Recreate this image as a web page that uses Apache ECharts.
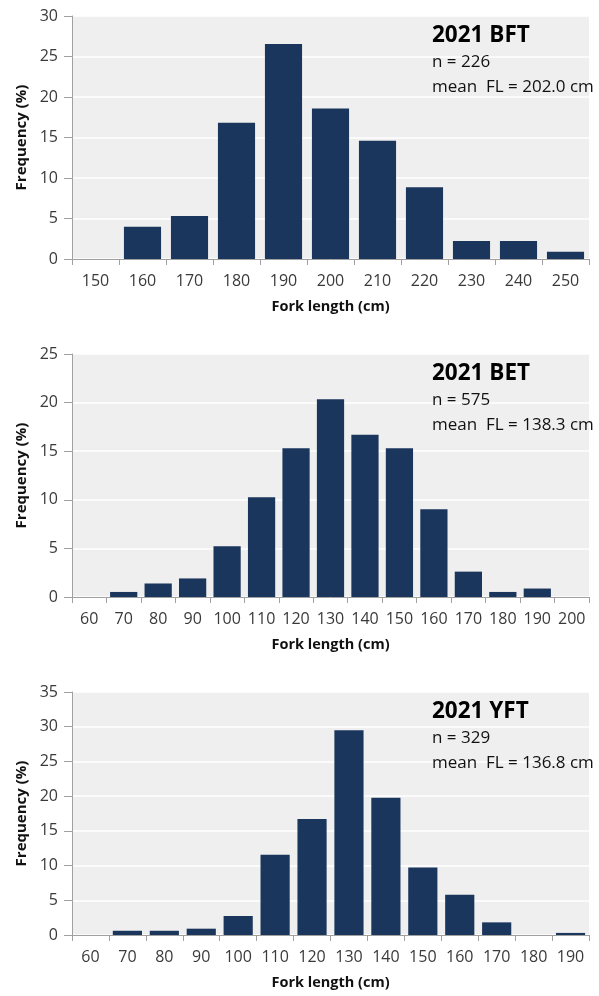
<!DOCTYPE html>
<html><head><meta charset="utf-8">
<script src="https://cdn.jsdelivr.net/npm/echarts@6/dist/echarts.min.js"></script>
<style>html,body{margin:0;padding:0;background:#fff}#c{width:599px;height:996px}</style>
</head><body><div id="c"></div>
<script>
// ---- data ----
const bftCategories = ['150','160','170','180','190','200','210','220','230','240','250'];
const bftValues = [0, 3.98, 5.31, 16.81, 26.55, 18.58, 14.60, 8.85, 2.21, 2.21, 0.88];
const betCategories = ['60','70','80','90','100','110','120','130','140','150','160','170','180','190','200'];
const betValues = [0, 0.52, 1.39, 1.91, 5.22, 10.26, 15.30, 20.35, 16.70, 15.30, 9.04, 2.61, 0.52, 0.87, 0];
const yftCategories = ['60','70','80','90','100','110','120','130','140','150','160','170','180','190'];
const yftValues = [0, 0.61, 0.61, 0.91, 2.74, 11.55, 16.72, 29.48, 19.76, 9.73, 5.78, 1.82, 0, 0.30];
const yMax = [30, 25, 35];
const panelTitles = ['2021 BFT', '2021 BET', '2021 YFT'];
const panelN = ['n = 226', 'n = 575', 'n = 329'];
const panelMean = ['mean  FL = 202.0 cm', 'mean  FL = 138.3 cm', 'mean  FL = 136.8 cm'];
const xAxisTitle = 'Fork length (cm)';
const yAxisTitle = 'Frequency (%)';

const FONT = 'Open Sans';
const barColor = '#1b365d';
const axisColor = '#a0a0a0';
const tops = [16, 354, 692];
const H = 243;
const cats = [bftCategories, betCategories, yftCategories];
const vals = [bftValues, betValues, yftValues];

const grids = [], xAxes = [], yAxes = [], series = [], graphics = [];
for (let i = 0; i < 3; i++) {
  grids.push({left: 72, right: 10, top: tops[i], height: H, show: true, backgroundColor: '#efefef', borderWidth: 0});
  xAxes.push({
    type: 'category', gridIndex: i, data: cats[i], boundaryGap: true,
    axisLine: {lineStyle: {color: axisColor, width: 1}},
    axisTick: {show: true, interval: 0, length: 6, lineStyle: {color: axisColor}},
    axisLabel: {interval: 0, margin: 14, fontFamily: FONT, fontSize: 16, color: '#3a3a3a'},
    name: xAxisTitle, nameLocation: 'middle', nameGap: 40,
    nameTextStyle: {fontFamily: FONT, fontSize: 14.5, fontWeight: 'bold', color: '#111'}
  });
  yAxes.push({
    type: 'value', gridIndex: i, min: 0, max: yMax[i], interval: 5,
    axisLine: {show: true, lineStyle: {color: axisColor, width: 1}},
    axisTick: {show: true, length: 8, lineStyle: {color: axisColor}},
    splitLine: {show: true, lineStyle: {color: '#ffffff', width: 1.5}},
    axisLabel: {margin: 14, fontFamily: FONT, fontSize: 16, color: '#3a3a3a'},
    name: yAxisTitle, nameLocation: 'middle', nameGap: 37,
    nameTextStyle: {fontFamily: FONT, fontSize: 15, fontWeight: 'bold', color: '#111'}
  });
  series.push({
    type: 'bar', xAxisIndex: i, yAxisIndex: i, data: vals[i],
    barCategoryGap: '21%', itemStyle: {color: barColor}, silent: true, animation: false
  });
  graphics.push({type: 'text', z: 100, left: 432, top: tops[i] + 18 - 10,
    style: {text: panelTitles[i], font: 'bold 22.5px "' + FONT + '"', fill: '#000'}});
  graphics.push({type: 'text', z: 100, left: 432, top: tops[i] + 46 - 8,
    style: {text: panelN[i], font: '17px "' + FONT + '"', fill: '#111'}});
  graphics.push({type: 'text', z: 100, left: 432, top: tops[i] + 70.5 - 8,
    style: {text: panelMean[i], font: '17px "' + FONT + '"', fill: '#111'}});
}

const chart = echarts.init(document.getElementById('c'), null, {renderer: 'canvas'});
chart.setOption({
  animation: false,
  grid: grids, xAxis: xAxes, yAxis: yAxes, series: series, graphic: graphics
});
</script></body></html>
